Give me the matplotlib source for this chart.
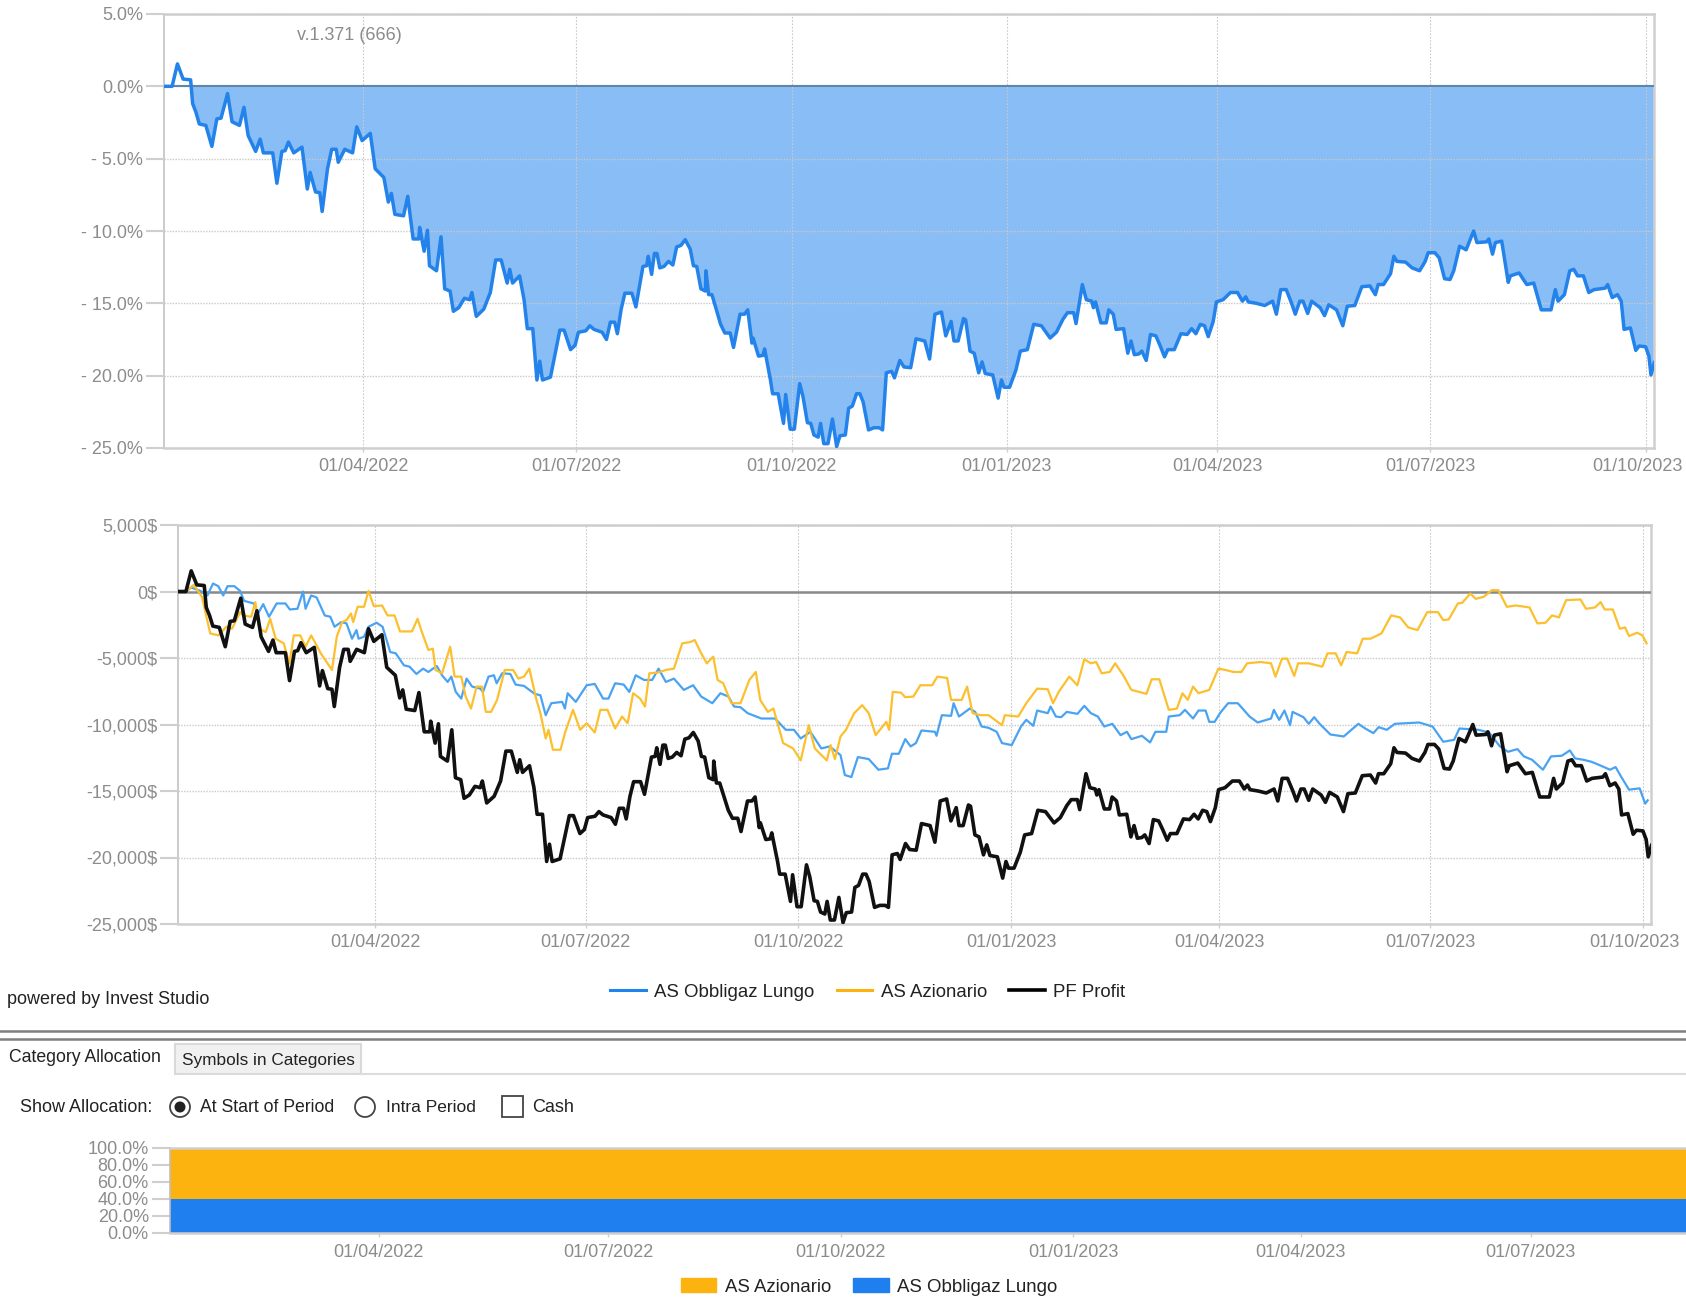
import numpy as np
import matplotlib
matplotlib.use("Agg")
import matplotlib.pyplot as plt
import matplotlib.dates as mdates
from matplotlib.lines import Line2D
from matplotlib.patches import Patch, Rectangle, Circle
from matplotlib.transforms import ScaledTranslation

plt.rcParams['font.family'] = ['Liberation Sans', 'DejaVu Sans']

# Values: days since 2022-01-01 and profit in thousands of $ (= % of capital)
pf_days = [4.8,8.3,10.6,13,16.2,17.1,18.5,19.9,22.7,25.3,27.4,29.2,32,33.9,37.1,39,40.8,44,45.9,47.3,51.3,53.1,55.2,56.6,58,60.3,63.8,66.1,67.3,69.6,71.4,72.4,74.7,76.5,78.4,79.3,82.1,85.4,87.2,89.5,93,95.1,98.8,100.7,102,103.5,107.2,109,111.3,113.7,114.1,116,117.4,118.3,121.3,123.2,124.8,127.1,128.5,130.8,133.2,135.5,136.4,138.3,141.5,144.3,146.6,148.9,151.5,152.6,153.8,156.8,158.7,160.1,162.4,164.2,165.4,166.6,170,174,175.8,178.6,180.5,181.9,185.1,186.8,188.6,192.1,193.9,195.6,197.4,198.6,200.2,201.8,204.8,206.5,209.5,211.1,211.8,213.2,214.4,215.5,216.7,218.5,220.4,222.3,223.9,225.7,227.6,229.7,231.1,232.5,234.3,236.2,236.4,237.6,239,242.7,244.5,246.8,248.2,251,252.9,254.3,256.1,256.6,258.9,260.8,261.5,264,264.9,267.3,269.6,270.5,272.4,274.2,276.5,277.9,279.8,281.2,282.6,284.4,285.4,286.8,288.6,290.5,292.3,293.7,296,297.4,
299,300.8,302.2,303.6,305.9,308.2,310.5,311.9,313.5,315.8,317,319.3,321.1,323.9,326.2,329.9,332,334.3,337.1,338.9,341.2,342.4,344.2,346.5,347.4,349.3,351.1,353,354.4,355.8,359,361.3,362.7,363.8,366.2,368.9,370.8,373.8,376.5,379.8,383.5,386.2,389,390.9,393.6,394.6,397.3,399,401.3,402,402.9,405.2,407.5,408.6,410.5,411.7,414.9,416.7,418.1,419.5,421.4,422.7,424.6,426.4,428.7,430.6,432.4,433.8,436.6,439.4,442.1,444,445.8,447.7,449.5,451.1,453.2,454.6,457.4,460.6,463.6,465.7,467.1,468.2,471.7,475.2,478.6,480.2,482.1,484.4,486.7,488.3,490.2,491.6,493.6,495.3,498.9,500.8,502.6,505.9,508.6,510.5,513.7,516.7,520.2,522.5,523.7,526,529,530.4,531.7,535.4,538.2,541.4,543.8,545.1,547.9,549.8,552.1,554.4,556,558.5,561.3,564.5,565.9,570.1,571,572.6,573.8,576.5,579.3,580.2,583.9,587.2,590.2,593.4,597.6,599.4,600.6,603.3,605.6,607.3,608.9,611.4,613.7,616,620.7,621.8,623.7,626,627.6,628.8,631.5,633.8,635.2,638,639.4,640.3,641.7]
pf_vals = [0,0,1.55,.5,.45,-1.2,-1.8,-2.6,-2.7,-4.15,-2.25,-2.2,-.5,-2.45,-2.7,-1.45,-3.4,-4.5,-3.65,-4.6,-4.6,-6.7,-4.5,-4.45,-3.85,-4.6,-4.2,-7.1,-5.95,-7.3,-7.35,-8.65,-5.7,-4.35,-4.35,-5.25,-4.35,-4.6,-2.8,-3.75,-3.25,-5.7,-6.3,-8,-7.4,-8.85,-8.95,-7.6,-10.55,-10.55,-9.75,-11.4,-9.95,-12.4,-12.75,-10.4,-14,-14.15,-15.55,-15.3,-14.65,-14.75,-14.25,-15.9,-15.4,-14.25,-12,-12,-13.6,-12.65,-13.6,-13.1,-14.75,-16.75,-16.75,-20.3,-19,-20.3,-20.1,-16.85,-16.85,-18.2,-17.9,-17,-16.9,-16.55,-16.8,-17,-17.5,-16.3,-16.3,-17.1,-15.4,-14.3,-14.3,-15.25,-12.45,-12.4,-11.75,-13,-11.55,-11.55,-12.55,-12.45,-12.1,-12.35,-11.1,-11,-10.6,-11.25,-12.4,-12.45,-14,-14.15,-12.75,-14.4,-14.4,-16.45,-17.05,-17.05,-18.05,-15.75,-15.75,-15.45,-17.75,-17.4,-18.65,-18.6,-18.15,-20.3,-21.25,-21.25,-23.3,-21.3,-23.7,-23.7,-20.55,-21.45,-23.25,-23.3,-24.1,-24.25,-23.3,-24.7,-24.7,-23,-24.9,-24.15,-24.1,-22.25,
-22.1,-21.25,-21.25,-21.8,-23.75,-23.6,-23.6,-23.75,-19.8,-19.7,-20.15,-18.95,-19.4,-19.45,-17.45,-17.6,-18.85,-15.75,-15.6,-17.25,-16.25,-17.6,-17.6,-16.05,-16.15,-18.3,-18.45,-19.8,-19.05,-19.85,-19.95,-21.55,-20.3,-20.8,-20.8,-19.6,-18.3,-18.2,-16.45,-16.55,-17.4,-17,-16.1,-15.65,-15.65,-16.4,-13.7,-14.75,-14.85,-15.3,-14.9,-16.35,-16.35,-15.45,-15.75,-16.8,-16.75,-18.45,-17.6,-18.55,-18.5,-18.3,-18.95,-17.15,-17.25,-17.95,-18.7,-18.2,-18.2,-17.1,-17.15,-16.75,-17.1,-16.45,-16.55,-17.3,-16.25,-14.9,-14.75,-14.25,-14.25,-14.85,-14.55,-14.9,-15,-15.15,-14.85,-15.75,-14.05,-14.05,-15,-15.75,-14.85,-14.85,-15.7,-14.85,-15.3,-15.85,-15.1,-15.45,-16.55,-15.2,-15.15,-13.85,-13.8,-14.4,-13.7,-13.7,-12.95,-11.75,-12.1,-12.15,-12.55,-12.75,-12.1,-11.5,-11.5,-11.85,-13.3,-13.35,-12.75,-11.05,-11.3,-10,-10.8,-10.75,-10.55,-11.6,-10.8,-10.7,-13.55,-13.1,-12.9,-13.7,-13.6,-15.45,-15.45,-14.05,-14.85,-14.4,-12.75,-12.65,-13.1,-13.1,-14.25,-14.05,-13.95,-13.7,-14.6,-14.4,-14.85,-16.8,-16.7,-18.25,-17.95,-18,-18.65,-19.95,-19.1]

bond_days = [8.2,10.5,14.5,17.6,20,22.3,24.4,26.3,29.2,31.7,33.4,37.6,39.5,41.7,44.2,47.5,51.3,53.2,56.5,58.9,60,62.4,64.8,68.3,70.7,72.5,75.4,77.7,80.1,82,82.9,85.3,87.2,90.7,93.3,96.6,99,102.5,104.9,107.9,110.8,113.1,116.7,119,121.4,123,124.9,127.3,129.6,132,135.5,136.7,139.1,141.4,142.6,145,148.5,150.8,154.4,159.1,161.5,163.8,166.2,170.9,172.1,173.3,176.8,181.5,185,188.6,190.9,193.8,197.5,199.9,202.7,206.3,209.8,212.6,215.7,219.2,223.5,227.5,231,235.8,239.3,242.8,245.2,248,251.1,257,262.9,267.6,271.1,274,278.2,282.9,286.5,291.2,293.1,295.9,298.7,303.4,307.6,311.7,313.4,316.4,319.2,321.5,323.8,326.2,332,332.7,335,339,340.1,342.4,347.1,349.4,352.2,355.2,358.7,361,365.2,369.2,371.5,374.5,376.2,380.8,382,384.3,386.6,389,393.6,396.6,399.4,402.4,405.2,408.7,412.2,415,416.9,421.5,425,427.3,432,433.1,437.8,440.1,443.6,445.9,449,450.6,452.9,455.2,458.7,462.9,468,471.5,477.3,478.5,480.8,483.1,485.5,486.6,491.3,493.6,495.9,498.3,502.9,508.7,515,518,521.5,523.8,527.3,530.8,541.3,547.1,551.7,556.4,558.7,566.9,571.5,576.2,579.7,583.8,586.6,590.1,594.8,598.3,602.9,606.4,608.7,612.2,615.7,619.2,623.8,626.2,628.5,632,636.6,639,640.1]
bond_vals = [0,.3,.05,-.3,.6,.4,-.3,.4,.4,.05,-.7,-.9,-1.65,-.95,-1.9,-.9,-.9,-1.35,-1.3,0,-1.3,-.3,-.45,-1.8,-1.9,-2.65,-2.3,-2.4,-3.55,-2.9,-3.55,-3.4,-2.65,-2.35,-2.65,-4.55,-4.65,-5.55,-5.65,-6.2,-5.8,-6.05,-5.6,-6.3,-6.8,-6.4,-7.55,-8.05,-6.55,-7.15,-7.3,-7.55,-6.4,-6.3,-6.9,-6.15,-6.2,-7,-7.1,-7.7,-7.8,-9.3,-8.4,-8.3,-8.8,-7.65,-8.3,-7.05,-6.95,-8.05,-8.05,-6.9,-7,-7.55,-6.3,-6.65,-6.65,-5.8,-6.8,-6.55,-7.4,-7.05,-7.9,-8.4,-7.65,-7.9,-8.65,-8.7,-9.15,-9.55,-9.55,-10.4,-10.4,-11.05,-10.55,-11.8,-11.65,-12.3,-13.8,-13.95,-12.45,-12.6,-13.4,-13.3,-12.2,-12.2,-11.1,-11.65,-11.4,-10.45,-10.55,-10.85,-9.3,-9.35,-8.4,-9.4,-8.8,-9.05,-10.15,-10.25,-10.55,-11.4,-11.55,-10.15,-9.65,-10.1,-8.95,-9.15,-8.65,-9.4,-9.45,-9.05,-9.2,-8.6,-9.15,-9.4,-10.15,-9.95,-10.8,-10.55,-11.1,-10.85,-11.35,-10.55,-10.55,-9.4,-9.3,-8.9,-9.55,-8.95,-8.95,-9.8,-9.8,-9.15,-8.4,-8.4,-9.4,-9.85,-9.55,-8.9,-9.65,-8.95,-10.05,-9.05,-9.45,-9.95,-9.45,-9.95,-10.75,-10.9,-9.95,-10.3,-10.65,-10.2,-10.4,-9.95,-9.85,-10.15,-11.3,-11.15,-10.3,-10.4,-10.6,-11.65,-12.05,-11.85,-12.4,-12.65,-13.4,-12.4,-12.35,-11.95,-12.55,-12.65,-12.8,-13.05,-13.4,-13.2,-13.9,-14.9,-14.8,-15.95,-15.7]

equity_days = [8.2,11.7,15.2,18.8,22.3,25.8,28.2,31.7,32.9,36.5,38.3,40,42.8,44.7,47.1,50.6,53,54.9,57.7,60,62.4,64.8,66.6,69.5,71.4,73.5,75.8,77.7,79.6,80.6,82.5,85.3,87.2,89.5,93.1,95.4,98.5,100.8,106,108.4,110.3,113.1,115,116.2,119,122.5,124.4,127.3,129.2,131.5,133.9,136.2,137.9,140.2,142.8,146.1,149.7,152,154.4,156.7,159.8,161.5,163.8,165,166.9,170.2,172.1,175.6,178.7,181.5,185,187.4,190.5,193.8,196.8,199.2,201.6,204.6,206.7,208.6,212.2,215.7,219.2,222.8,226.3,228.2,231,233.4,236.2,238.1,240.5,244,248,251.8,254.6,256.5,259.8,262.2,266.4,270.7,274,277.5,280.1,285.3,286.9,288.8,291.2,293.6,297.1,300.6,303.4,306.4,311,312.2,313.8,317.3,319.2,322.7,325.7,330.8,333.1,337.3,339,343.6,345.9,348.3,351.7,355.2,361,362.2,368,371.5,376.2,380.8,383.1,385.5,390.1,393.6,396.6,399.4,401.7,404.1,407.6,409.9,413.4,416.9,420.3,423.4,425.7,429,433.1,436.6,439,441.3,443.6,445.9,450.6,454.5,457.6,461,464.5,466.9,472.7,477.3,479.2,482,484.3,487.3,489,493.6,499.4,501.7,505.2,507.6,509.9,514.5,516.9,520.3,525,529.2,533.1,536.6,540.6,544.8,549.4,551.7,554.1,558,559.9,563.4,565.7,569.2,572.7,575.5,579.2,583.1,589,592.4,595.9,598.7,601.7,604.8,611,613.4,617.3,619.7,621.5,625,628,630.3,632,635.5,637.8,639.6]
equity_vals = [0,.5,-.4,-3.15,-3.3,-2.65,-2.8,-1.55,-1.8,-1.9,-.8,-2.8,-3.05,-2.05,-3.55,-3.9,-5.4,-3.3,-3.3,-4.15,-3.3,-4.05,-4.65,-5.4,-5.9,-3.4,-2.3,-2.15,-1.65,-2.3,-1.15,-1.15,.05,-1.1,-1.05,-1.8,-1.8,-3,-3,-2.05,-3.05,-4.4,-4.3,-5.9,-6.15,-4.15,-6.4,-6.4,-7.9,-8.8,-7.15,-7.15,-9.05,-9.05,-8.15,-5.9,-5.9,-6.55,-6.4,-5.8,-8.15,-9.15,-11.05,-10.4,-11.9,-11.9,-10.65,-8.9,-10.4,-9.9,-10.6,-8.9,-8.9,-10.3,-9.4,-9.9,-7.65,-8.05,-8.65,-6.15,-6.1,-5.9,-5.8,-3.9,-3.8,-3.65,-4.65,-5.4,-4.9,-6.65,-6.9,-8.4,-8.4,-6.65,-6.05,-8.15,-9.05,-8.8,-11.4,-11.8,-12.7,-10.05,-11.8,-12.7,-11.55,-12.6,-10.9,-10.4,-9.15,-8.55,-9.15,-10.8,-9.8,-10.4,-7.55,-7.6,-7.95,-7.9,-7.05,-7.05,-6.4,-6.5,-8.15,-8.15,-7.15,-9.15,-9.3,-9.3,-10.05,-9.3,-9.4,-8.4,-7.3,-7.35,-8.4,-7.55,-6.4,-7.05,-5.1,-5.4,-5.3,-6.15,-6.05,-5.4,-6.3,-7.4,-7.55,-7.7,-6.6,-6.6,-8.9,-8.8,-7.65,-8.15,-7.15,-7.65,-7.4,-5.8,-5.9,-6.05,-6.05,-5.4,-5.3,-5.4,-6.4,-5.05,-5.05,-6.35,-5.4,-5.4,-5.65,-4.65,-4.65,-5.55,-4.55,-4.65,-3.55,-3.55,-3.15,-1.8,-1.95,-2.7,-2.9,-1.55,-1.55,-2.15,-2.1,-.9,-.85,-.15,-.55,-.4,.1,.1,-1.15,-1.05,-1.2,-2.4,-2.35,-1.8,-1.95,-.65,-.6,-1.3,-1.2,-.8,-1.35,-1.35,-2.8,-2.7,-3.35,-3.1,-3.3,-3.9]

alloc_days = [5, 642]
alloc_bond = [40, 40]
alloc_equity = [60, 60]

series_bond = 'AS Obbligaz Lungo'
series_equity = 'AS Azionario'
series_pf = 'PF Profit'
pct_ticks = [5, 0, -5, -10, -15, -20, -25]
pct_labels = ['5.0%', '0.0%', '- 5.0%', '- 10.0%', '- 15.0%', '- 20.0%', '- 25.0%']
usd_ticks = [5000, 0, -5000, -10000, -15000, -20000, -25000]
usd_labels = ['5,000$', '0$', '-5,000$', '-10,000$', '-15,000$', '-20,000$', '-25,000$']
alloc_ticks = [0, 20, 40, 60, 80, 100]
alloc_labels = ['0.0%', '20.0%', '40.0%', '60.0%', '80.0%', '100.0%']
date_ticks = ['2022-04-01', '2022-07-01', '2022-10-01', '2023-01-01', '2023-04-01', '2023-07-01', '2023-10-01']

W, H = 1686, 1312
fig = plt.figure(figsize=(W / 100, H / 100), dpi=100, facecolor='white')


def to_dates(days):
    hours = np.round(np.asarray(days, float) * 24).astype('timedelta64[h]')
    return np.datetime64('2022-01-01T00') + hours


def axes_px(l, t, r, b):
    return fig.add_axes([l / W, 1 - b / H, (r - l) / W, (b - t) / H])


GREY = '#8c8c8c'
SPINE = '#d2cece'
GRID = '#c9c9c9'
FS = 13


def style(ax, yt, yl, xlim, ylim, date_list, grid=True):
    ax.set_yticks(yt, yl)
    ticks = np.array(date_list, dtype='datetime64[D]')
    ax.set_xticks(ticks)
    ax.xaxis.set_major_formatter(mdates.DateFormatter('%d/%m/%Y'))
    ax.set_xlim(*to_dates(xlim))
    ax.set_ylim(*ylim)
    ax.tick_params(axis='y', length=13, width=1.5, color=SPINE, labelcolor=GREY, labelsize=FS, pad=2)
    ax.tick_params(axis='x', length=3, width=1, color=SPINE, labelcolor=GREY, labelsize=FS, pad=4)
    for s in ('top', 'bottom', 'right'):
        ax.spines[s].set_color(SPINE)
        ax.spines[s].set_linewidth(1.8)
    ax.spines['left'].set_color('#c0bcbc')
    ax.spines['left'].set_linewidth(1.1)
    if grid:
        ax.grid(axis='y', ls=(0, (1, 1)), lw=1.0, color=GRID, zorder=1)
        ax.grid(axis='x', ls=(0, (1.5, 1.5)), lw=0.8, color=GRID, zorder=1)
        ax.set_axisbelow(False)
        # keep the last date label inside the picture
        lab = ax.get_xticklabels()[-1]
        lab.set_transform(lab.get_transform() + ScaledTranslation(-6 / 72, 0, fig.dpi_scale_trans))


# Top: drawdown %
ax1 = axes_px(164, 14, 1654, 448)
x_pf = to_dates(pf_days)
y_pf = np.array(pf_vals)
ax1.fill_between(x_pf, np.minimum(y_pf, 0), 0, color='#1e82ee', alpha=0.52, lw=0, zorder=2)
style(ax1, pct_ticks, pct_labels, (4.85, 641.6), (-25, 5), date_ticks)
ax1.axhline(0, color='#5b86ad', lw=1.5, zorder=3)
ax1.plot(x_pf, y_pf, color='#2383ea', lw=2.5, solid_joinstyle='round', zorder=4)
fig.text(297 / W, 1 - 35 / H, 'v.1.371 (666)', fontsize=FS, color=GREY, va='center')

# Middle: profit $
ax2 = axes_px(178.3, 525, 1651, 924)
style(ax2, usd_ticks, usd_labels, (5, 641.5), (-25000, 5000), date_ticks)
ax2.axhline(0, color='#8a8a8a', lw=1.8, zorder=3)
ax2.plot(to_dates(bond_days), np.array(bond_vals) * 1000, color='#4aa3f2', lw=1.6, zorder=4, label=series_bond)
ax2.plot(to_dates(equity_days), np.array(equity_vals) * 1000, color='#fcc02e', lw=1.6, zorder=5, label=series_equity)
ax2.plot(x_pf, y_pf * 1000, color='#111111', lw=2.6, zorder=6, label=series_pf)
leg_handles = [Line2D([], [], color='#1f84ee', lw=2.2), Line2D([], [], color='#fcb20f', lw=2.2), Line2D([], [], color='black', lw=2.6)]
fig.legend(leg_handles, [series_bond, series_equity, series_pf], ncols=3, frameon=False, fontsize=13.4,
           labelcolor='#222222', loc='center', bbox_to_anchor=(868 / W, 1 - 992 / H),
           handlelength=1.9, handletextpad=0.46, columnspacing=1.2, borderpad=0, borderaxespad=0)

# Bottom: allocation
ax3 = axes_px(169.6, 1148, 1686, 1232.7)
x_al = to_dates(alloc_days)
ax3.stackplot(x_al, alloc_bond, alloc_equity, colors=['#1f7fee', '#fcb20f'], lw=0, zorder=2)
style(ax3, alloc_ticks, alloc_labels, (7.3, 607.5), (0, 100), date_ticks[:-1], grid=False)
ax3.spines['right'].set_visible(False)
ax3.spines['left'].set_linewidth(1.2)
ax3.tick_params(axis='x', pad=5)
fig.legend([Patch(color='#fcb20f'), Patch(color='#1f7fee')], [series_equity, series_bond], ncols=2, frameon=False,
           fontsize=13.4, labelcolor='#222222', loc='center', bbox_to_anchor=(869 / W, 1 - 1287 / H),
           handlelength=1.9, handleheight=0.8, handletextpad=0.46, columnspacing=1.2, borderpad=0, borderaxespad=0)

# Window furniture in pixel coordinates
ui = fig.add_axes([0, 0, 1, 1], zorder=10)
ui.set_xlim(0, W)
ui.set_ylim(H, 0)
ui.axis('off')
ui.patch.set_alpha(0)
DARK = '#222222'
ui.text(7, 1000, 'powered by Invest Studio', fontsize=FS, color=DARK, va='center')
ui.plot([0, W], [1031, 1031], color='#7f7f7f', lw=1.8)
ui.plot([0, W], [1039, 1039], color='#7f7f7f', lw=1.8)
ui.plot([361, W], [1074, 1074], color='#dcdcdc', lw=1.5)
ui.add_patch(Rectangle((174.5, 1044), 186.5, 30, fc='#f0f0f0', ec='#d9d9d9', lw=1.5))
ui.text(9, 1057, 'Category Allocation', fontsize=12.7, color=DARK, va='center')
ui.text(182, 1060, 'Symbols in Categories', fontsize=12.4, color=DARK, va='center')
ui.text(20, 1107, 'Show Allocation:', fontsize=FS, color=DARK, va='center')
ui.add_patch(Circle((180, 1107), 10, fc='white', ec='#444444', lw=1.3))
ui.add_patch(Circle((180, 1107), 5.5, fc='#222222', ec='none'))
ui.text(200, 1107, 'At Start of Period', fontsize=12.7, color=DARK, va='center')
ui.add_patch(Circle((365, 1107), 10, fc='white', ec='#444444', lw=1.3))
ui.text(386, 1107, 'Intra Period', fontsize=12.5, color=DARK, va='center')
ui.add_patch(Rectangle((502, 1096), 21, 21, fc='white', ec='#444444', lw=1.3))
ui.text(532, 1107, 'Cash', fontsize=FS, color=DARK, va='center')

fig.savefig('out.png', dpi=100, facecolor='white')
